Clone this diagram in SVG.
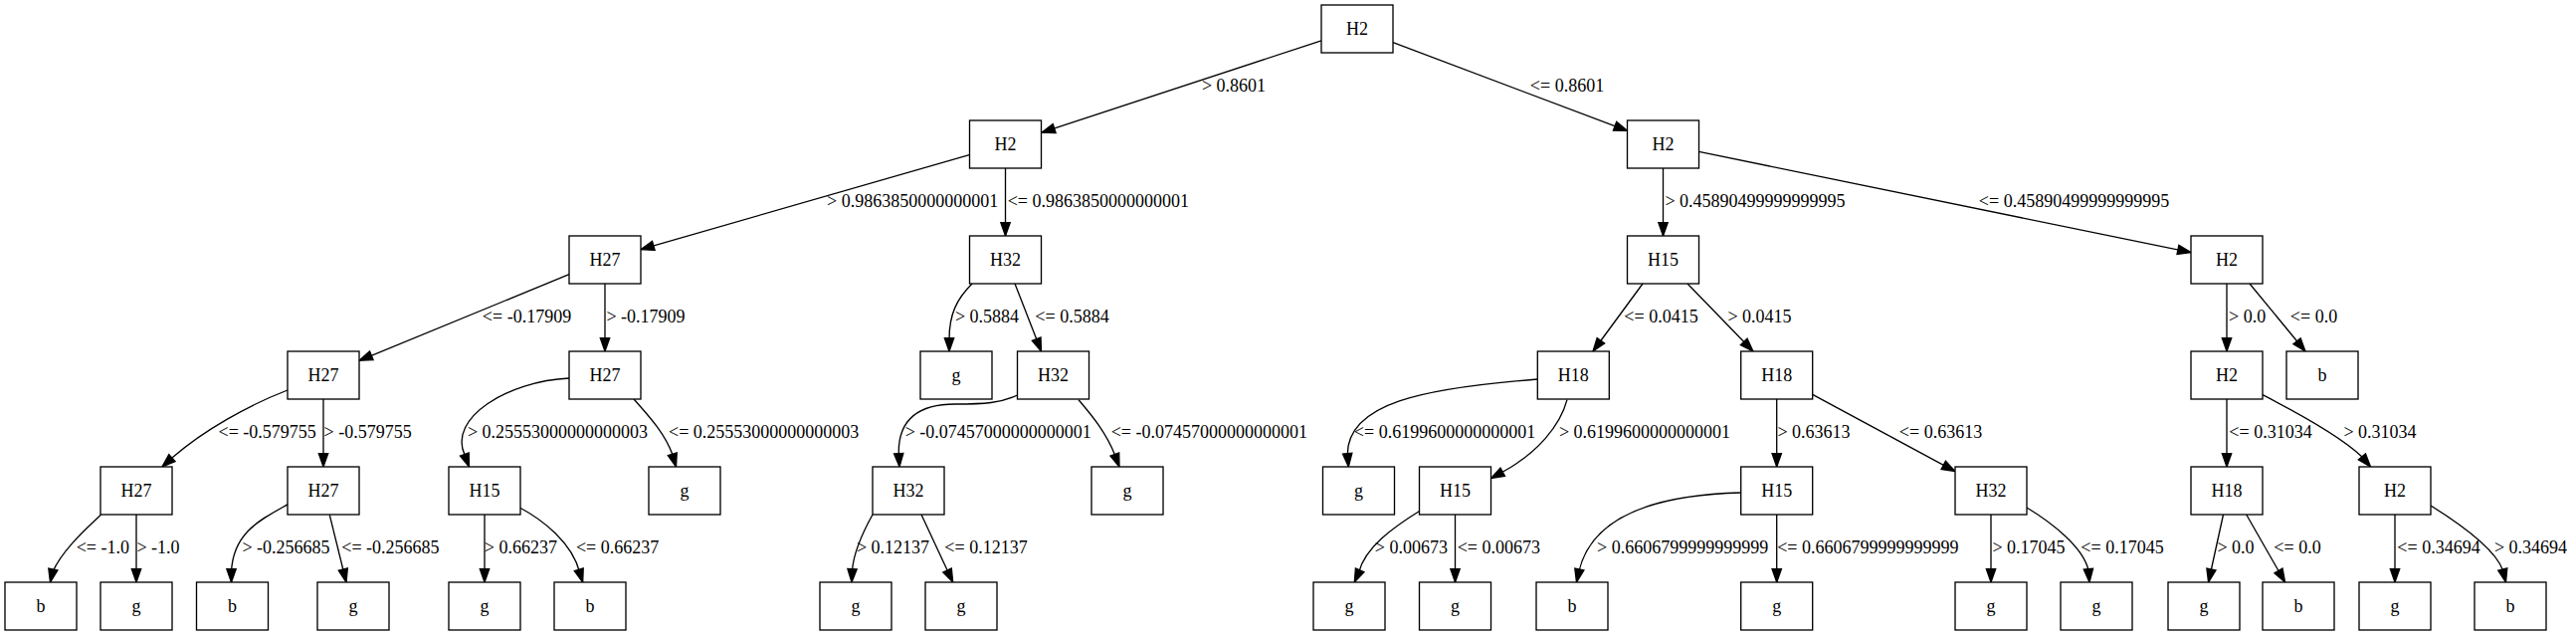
<svg xmlns="http://www.w3.org/2000/svg" width="2589" height="639" viewBox="0 0 2589 639">
<style>
.node rect{fill:#fff;stroke:#000;stroke-width:1.33}
.node text{font-family:"Liberation Serif","Times New Roman",serif;font-size:18px;text-anchor:middle;fill:#000}
.edge path{fill:none;stroke:#000;stroke-width:1.33;marker-end:url(#ah)}
.edge text{font-family:"Liberation Serif","Times New Roman",serif;font-size:18px;text-anchor:middle;fill:#000}
</style>
<defs>
<marker id="ah" markerUnits="userSpaceOnUse" markerWidth="16" markerHeight="12" refX="13.33" refY="4.67" orient="auto" overflow="visible">
<path d="M0,0L13.33,4.67L0,9.33Z" fill="#000" stroke="#000" stroke-width="1.33"/>
</marker>
</defs>
<rect x="0" y="0" width="2589" height="639" fill="#fff"/>
<g id="edges">
<g class="edge"><path d="M1328,40.8L1047,133.2"/><text x="1240" y="92.3">&gt; 0.8601</text></g>
<g class="edge"><path d="M1400,42.6L1635.5,131.4"/><text x="1575" y="92.3">&lt;= 0.8601</text></g>
<g class="edge"><path d="M975,155.4L644,250.6"/><text x="917.2" y="208.3">&gt; 0.9863850000000001</text></g>
<g class="edge"><path d="M1010.5,169L1010.5,237"/><text x="1103.8" y="208.3">&lt;= 0.9863850000000001</text></g>
<g class="edge"><path d="M1671.5,169L1671.5,237"/><text x="1764" y="208.3">&gt; 0.45890499999999995</text></g>
<g class="edge"><path d="M1707.5,152.4L2202,253.6"/><text x="2084.5" y="208.3">&lt;= 0.45890499999999995</text></g>
<g class="edge"><path d="M572,275.7L361,362.3"/><text x="529.5" y="324.3">&lt;= -0.17909</text></g>
<g class="edge"><path d="M608,285L608,353"/><text x="649" y="324.3">&gt; -0.17909</text></g>
<g class="edge"><path d="M977,285C962,300 954,315 954,341L954,353"/><text x="992" y="324.3">&gt; 0.5884</text></g>
<g class="edge"><path d="M1020,285L1046.5,353"/><text x="1077.5" y="324.3">&lt;= 0.5884</text></g>
<g class="edge"><path d="M1651,285L1601,353"/><text x="1669.5" y="324.3">&lt;= 0.0415</text></g>
<g class="edge"><path d="M1696,285L1762,353"/><text x="1768.5" y="324.3">&gt; 0.0415</text></g>
<g class="edge"><path d="M2238,285L2238,353"/><text x="2258.6" y="324.3">&gt; 0.0</text></g>
<g class="edge"><path d="M2261,285L2317,353"/><text x="2325.5" y="324.3">&lt;= 0.0</text></g>
<g class="edge"><path d="M289,392C250,407 205,432 173.5,459.5L163,469"/><text x="268.7" y="440.3">&lt;= -0.579755</text></g>
<g class="edge"><path d="M325,401L325,469"/><text x="369.7" y="440.3">&gt; -0.579755</text></g>
<g class="edge"><path d="M572,380C510,383 450,420 467,457L471.5,469"/><text x="560.5" y="440.3">&gt; 0.25553000000000003</text></g>
<g class="edge"><path d="M637,401C652,418 668,435 676,457L679.5,469"/><text x="767.7" y="440.3">&lt;= 0.25553000000000003</text></g>
<g class="edge"><path d="M1022.7,397C1005,405 990,406 960,406C925,406 902,420 903.3,457L904,469"/><text x="1003.3" y="440.3">&gt; -0.07457000000000001</text></g>
<g class="edge"><path d="M1084,401.7C1096,416 1111,433 1120.5,457L1125,469"/><text x="1215.3" y="440.3">&lt;= -0.07457000000000001</text></g>
<g class="edge"><path d="M1545.3,381C1430,390 1354,405 1354.3,457L1355.3,469"/><text x="1452" y="440.3">&lt;= 0.6199600000000001</text></g>
<g class="edge"><path d="M1575,401.7C1568,428 1545,455 1510.5,474L1498.5,480.5"/><text x="1653" y="440.3">&gt; 0.6199600000000001</text></g>
<g class="edge"><path d="M1785.7,401L1785.7,469"/><text x="1823" y="440.3">&gt; 0.63613</text></g>
<g class="edge"><path d="M1821.7,396.4L1965,473.6"/><text x="1950.5" y="440.3">&lt;= 0.63613</text></g>
<g class="edge"><path d="M2238,401L2238,469"/><text x="2282" y="440.3">&lt;= 0.31034</text></g>
<g class="edge"><path d="M2274,396.7C2300,410 2352,438 2374,459L2382.5,469"/><text x="2392" y="440.3">&gt; 0.31034</text></g>
<g class="edge"><path d="M101.3,517.3C88,530 63,552 52.7,575L50.5,585"/><text x="103.3" y="556.3">&lt;= -1.0</text></g>
<g class="edge"><path d="M137,517L137,585"/><text x="159" y="556.3">&gt; -1.0</text></g>
<g class="edge"><path d="M289.3,506.7C262,522 234,535 232.5,575L232.5,585"/><text x="287.5" y="556.3">&gt; -0.256685</text></g>
<g class="edge"><path d="M331.3,517.3L348,585"/><text x="392.4" y="556.3">&lt;= -0.256685</text></g>
<g class="edge"><path d="M487,517L487,585"/><text x="523.4" y="556.3">&gt; 0.66237</text></g>
<g class="edge"><path d="M522.3,510C545,522 575,545 582.6,575L585.7,585"/><text x="620.6" y="556.3">&lt;= 0.66237</text></g>
<g class="edge"><path d="M877,517C867,535 858,555 856.5,573L856,585"/><text x="897.5" y="556.3">&gt; 0.12137</text></g>
<g class="edge"><path d="M926,517L957.7,585"/><text x="991" y="556.3">&lt;= 0.12137</text></g>
<g class="edge"><path d="M1427,513.3C1400,530 1372,550 1365.7,575L1361.3,585"/><text x="1418.4" y="556.3">&gt; 0.00673</text></g>
<g class="edge"><path d="M1462.5,517L1462.5,585"/><text x="1506.3" y="556.3">&lt;= 0.00673</text></g>
<g class="edge"><path d="M1749.7,495C1670,497 1600,515 1586.7,575L1584.5,585"/><text x="1691.2" y="556.3">&gt; 0.6606799999999999</text></g>
<g class="edge"><path d="M1785.7,517L1785.7,585"/><text x="1877.3" y="556.3">&lt;= 0.6606799999999999</text></g>
<g class="edge"><path d="M2001,517L2001,585"/><text x="2039" y="556.3">&gt; 0.17045</text></g>
<g class="edge"><path d="M2037,510C2062,525 2094,550 2099,573L2100,585"/><text x="2133" y="556.3">&lt;= 0.17045</text></g>
<g class="edge"><path d="M2234.5,517L2219.6,585"/><text x="2247" y="556.3">&gt; 0.0</text></g>
<g class="edge"><path d="M2257.7,517L2296.6,585"/><text x="2309" y="556.3">&lt;= 0.0</text></g>
<g class="edge"><path d="M2407,517L2407,585"/><text x="2451" y="556.3">&lt;= 0.34694</text></g>
<g class="edge"><path d="M2443,508C2475,528 2508,552 2515.5,573L2518.5,585"/><text x="2543.5" y="556.3">&gt; 0.34694</text></g>
</g>
<g id="n0" class="node"><rect x="1328" y="5" width="72" height="48"/><text x="1364" y="34.5">H2</text></g>
<g id="n1" class="node"><rect x="974.5" y="121" width="72" height="48"/><text x="1010.5" y="150.5">H2</text></g>
<g id="n2" class="node"><rect x="1635.5" y="121" width="72" height="48"/><text x="1671.5" y="150.5">H2</text></g>
<g id="n3" class="node"><rect x="572" y="237" width="72" height="48"/><text x="608" y="266.5">H27</text></g>
<g id="n4" class="node"><rect x="974.5" y="237" width="72" height="48"/><text x="1010.5" y="266.5">H32</text></g>
<g id="n5" class="node"><rect x="1635.5" y="237" width="72" height="48"/><text x="1671.5" y="266.5">H15</text></g>
<g id="n6" class="node"><rect x="2202" y="237" width="72" height="48"/><text x="2238" y="266.5">H2</text></g>
<g id="n7" class="node"><rect x="289" y="353" width="72" height="48"/><text x="325" y="382.5">H27</text></g>
<g id="n8" class="node"><rect x="572" y="353" width="72" height="48"/><text x="608" y="382.5">H27</text></g>
<g id="n9" class="node"><rect x="925" y="353" width="72" height="48"/><text x="961" y="382.5">g</text></g>
<g id="n10" class="node"><rect x="1022.5" y="353" width="72" height="48"/><text x="1058.5" y="382.5">H32</text></g>
<g id="n11" class="node"><rect x="1545.3" y="353" width="72" height="48"/><text x="1581.3" y="382.5">H18</text></g>
<g id="n12" class="node"><rect x="1749.7" y="353" width="72" height="48"/><text x="1785.7" y="382.5">H18</text></g>
<g id="n13" class="node"><rect x="2202" y="353" width="72" height="48"/><text x="2238" y="382.5">H2</text></g>
<g id="n14" class="node"><rect x="2298" y="353" width="72" height="48"/><text x="2334" y="382.5">b</text></g>
<g id="n15" class="node"><rect x="101" y="469" width="72" height="48"/><text x="137" y="498.5">H27</text></g>
<g id="n16" class="node"><rect x="289" y="469" width="72" height="48"/><text x="325" y="498.5">H27</text></g>
<g id="n17" class="node"><rect x="451" y="469" width="72" height="48"/><text x="487" y="498.5">H15</text></g>
<g id="n18" class="node"><rect x="652" y="469" width="72" height="48"/><text x="688" y="498.5">g</text></g>
<g id="n19" class="node"><rect x="877" y="469" width="72" height="48"/><text x="913" y="498.5">H32</text></g>
<g id="n20" class="node"><rect x="1097" y="469" width="72" height="48"/><text x="1133" y="498.5">g</text></g>
<g id="n21" class="node"><rect x="1329.5" y="469" width="72" height="48"/><text x="1365.5" y="498.5">g</text></g>
<g id="n22" class="node"><rect x="1426.5" y="469" width="72" height="48"/><text x="1462.5" y="498.5">H15</text></g>
<g id="n23" class="node"><rect x="1749.7" y="469" width="72" height="48"/><text x="1785.7" y="498.5">H15</text></g>
<g id="n24" class="node"><rect x="1965" y="469" width="72" height="48"/><text x="2001" y="498.5">H32</text></g>
<g id="n25" class="node"><rect x="2202" y="469" width="72" height="48"/><text x="2238" y="498.5">H18</text></g>
<g id="n26" class="node"><rect x="2371" y="469" width="72" height="48"/><text x="2407" y="498.5">H2</text></g>
<g id="l0" class="node"><rect x="5" y="585" width="72" height="48"/><text x="41" y="614.5">b</text></g>
<g id="l1" class="node"><rect x="101" y="585" width="72" height="48"/><text x="137" y="614.5">g</text></g>
<g id="l2" class="node"><rect x="197.5" y="585" width="72" height="48"/><text x="233.5" y="614.5">b</text></g>
<g id="l3" class="node"><rect x="319" y="585" width="72" height="48"/><text x="355" y="614.5">g</text></g>
<g id="l4" class="node"><rect x="451" y="585" width="72" height="48"/><text x="487" y="614.5">g</text></g>
<g id="l5" class="node"><rect x="557" y="585" width="72" height="48"/><text x="593" y="614.5">b</text></g>
<g id="l6" class="node"><rect x="824" y="585" width="72" height="48"/><text x="860" y="614.5">g</text></g>
<g id="l7" class="node"><rect x="930" y="585" width="72" height="48"/><text x="966" y="614.5">g</text></g>
<g id="l8" class="node"><rect x="1320" y="585" width="72" height="48"/><text x="1356" y="614.5">g</text></g>
<g id="l9" class="node"><rect x="1426.5" y="585" width="72" height="48"/><text x="1462.5" y="614.5">g</text></g>
<g id="l10" class="node"><rect x="1544" y="585" width="72" height="48"/><text x="1580" y="614.5">b</text></g>
<g id="l11" class="node"><rect x="1749.7" y="585" width="72" height="48"/><text x="1785.7" y="614.5">g</text></g>
<g id="l12" class="node"><rect x="1965" y="585" width="72" height="48"/><text x="2001" y="614.5">g</text></g>
<g id="l13" class="node"><rect x="2071" y="585" width="72" height="48"/><text x="2107" y="614.5">g</text></g>
<g id="l14" class="node"><rect x="2179" y="585" width="72" height="48"/><text x="2215" y="614.5">g</text></g>
<g id="l15" class="node"><rect x="2274" y="585" width="72" height="48"/><text x="2310" y="614.5">b</text></g>
<g id="l16" class="node"><rect x="2371" y="585" width="72" height="48"/><text x="2407" y="614.5">g</text></g>
<g id="l17" class="node"><rect x="2487" y="585" width="72" height="48"/><text x="2523" y="614.5">b</text></g>
</svg>
